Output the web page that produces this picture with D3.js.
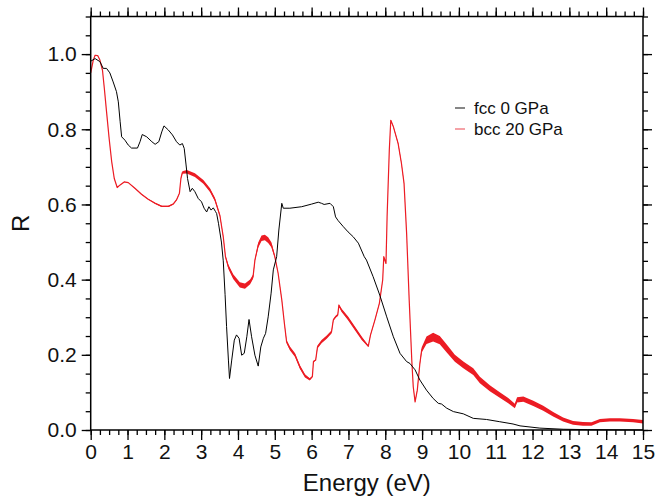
<!DOCTYPE html>
<html>
<head>
<meta charset="utf-8">
<script src="https://cdn.jsdelivr.net/npm/d3@7"></script>
<style>
  body { margin: 0; background: #fff; }
  svg { display: block; }
</style>
</head>
<body>
<svg id="chart" width="655" height="497"></svg>
<script>
// photon energy (eV) and reflectivity
const fccE = [0.00,0.12,0.25,0.34,0.43,0.52,0.61,0.70,0.75,0.80,0.84,0.93,1.02,1.11,1.27,1.34,1.40,1.52,1.66,1.75,1.85,1.93,1.99,2.11,2.22,2.33,2.42,2.49,2.54,2.59,2.63,2.70,2.76,2.83,2.92,3.01,3.08,3.15,3.21,3.27,3.33,3.39,3.42,3.47,3.55,3.60,3.65,3.69,3.74,3.77,3.83,3.90,3.96,4.03,4.10,4.17,4.24,4.30,4.37,4.46,4.55,4.62,4.69,4.75,4.82,4.90,4.96,5.05,5.11,5.19,5.23,5.41,5.73,6.00,6.18,6.27,6.34,6.50,6.59,6.65,6.72,6.86,6.99,7.13,7.27,7.43,7.49,7.67,7.85,8.04,8.22,8.40,8.58,8.67,8.81,8.94,9.12,9.30,9.44,9.53,9.67,9.85,10.12,10.39,10.75,11.11,11.47,11.66,12.20,12.83,13.50,15.00];
const fccR = [0.981,0.988,0.980,0.962,0.962,0.950,0.926,0.900,0.873,0.820,0.780,0.771,0.758,0.750,0.750,0.767,0.786,0.780,0.767,0.760,0.767,0.793,0.809,0.798,0.785,0.767,0.758,0.762,0.749,0.705,0.669,0.634,0.643,0.634,0.616,0.607,0.590,0.580,0.594,0.585,0.591,0.581,0.576,0.550,0.500,0.450,0.360,0.275,0.186,0.137,0.186,0.239,0.253,0.244,0.199,0.204,0.248,0.294,0.248,0.199,0.170,0.221,0.244,0.257,0.301,0.364,0.426,0.461,0.532,0.603,0.590,0.590,0.594,0.601,0.606,0.603,0.600,0.603,0.594,0.567,0.557,0.541,0.527,0.514,0.497,0.461,0.452,0.408,0.359,0.301,0.248,0.204,0.182,0.177,0.160,0.133,0.106,0.084,0.071,0.069,0.058,0.049,0.043,0.031,0.028,0.022,0.016,0.011,0.005,0.002,0.001,0.000];

const bccE = [0.00,0.07,0.12,0.19,0.25,0.32,0.37,0.43,0.50,0.57,0.64,0.72,0.80,0.91,1.02,1.20,1.38,1.56,1.75,1.93,2.11,2.24,2.33,2.41,2.45,2.49,2.61,2.83,3.06,3.24,3.37,3.51,3.60,3.66,3.74,3.87,4.05,4.19,4.33,4.41,4.46,4.55,4.64,4.73,4.82,4.91,5.00,5.09,5.19,5.26,5.32,5.41,5.55,5.68,5.82,5.95,6.02,6.05,6.11,6.16,6.27,6.41,6.54,6.59,6.65,6.71,6.74,6.81,6.99,7.18,7.36,7.54,7.60,7.72,7.84,7.93,7.96,8.02,8.05,8.11,8.15,8.22,8.35,8.44,8.51,8.58,8.65,8.72,8.76,8.81,8.87,8.94,8.99,9.12,9.30,9.48,9.67,9.89,10.12,10.39,10.57,10.84,11.11,11.34,11.52,11.58,11.75,12.02,12.29,12.56,12.83,13.10,13.37,13.60,13.83,14.10,14.37,14.73,15.00];
const bccR = [0.950,0.984,0.997,0.996,0.984,0.957,0.909,0.847,0.776,0.714,0.669,0.645,0.652,0.660,0.658,0.643,0.627,0.614,0.603,0.595,0.595,0.601,0.612,0.630,0.669,0.685,0.687,0.678,0.660,0.638,0.614,0.570,0.514,0.461,0.434,0.408,0.386,0.383,0.394,0.408,0.452,0.492,0.510,0.512,0.505,0.492,0.461,0.417,0.346,0.284,0.235,0.217,0.199,0.168,0.144,0.135,0.142,0.182,0.186,0.221,0.235,0.247,0.261,0.293,0.301,0.306,0.332,0.319,0.297,0.270,0.244,0.223,0.253,0.293,0.337,0.399,0.461,0.443,0.567,0.745,0.824,0.807,0.762,0.709,0.656,0.523,0.346,0.186,0.115,0.075,0.106,0.177,0.213,0.239,0.247,0.239,0.217,0.191,0.173,0.155,0.133,0.111,0.093,0.078,0.064,0.080,0.082,0.071,0.058,0.042,0.028,0.019,0.016,0.016,0.025,0.027,0.027,0.025,0.022];
// spread of the bcc curve (max - min over the plotted set), same units as R
const bccSpread = [0.001,0.001,0.001,0.001,0.001,0.001,0.001,0.001,0.001,0.001,0.001,0.001,0.001,0.001,0.001,0.001,0.002,0.002,0.003,0.003,0.003,0.003,0.003,0.002,0.002,0.007,0.009,0.010,0.010,0.010,0.009,0.006,0.004,0.007,0.011,0.013,0.014,0.014,0.013,0.011,0.005,0.013,0.015,0.015,0.015,0.013,0.006,0.003,0.003,0.004,0.009,0.010,0.010,0.010,0.009,0.006,0.003,0.003,0.004,0.008,0.009,0.009,0.008,0.005,0.006,0.006,0.005,0.009,0.010,0.010,0.009,0.004,0.003,0.003,0.003,0.003,0.003,0.003,0.002,0.002,0.003,0.004,0.005,0.005,0.004,0.002,0.002,0.002,0.003,0.004,0.004,0.008,0.014,0.020,0.023,0.022,0.021,0.019,0.018,0.018,0.017,0.016,0.015,0.014,0.012,0.014,0.014,0.014,0.013,0.012,0.011,0.010,0.010,0.009,0.009,0.009,0.009,0.009,0.009];

const seriesNames = ["fcc 0 GPa", "bcc 20 GPa"];
const xTickLabels = d3.range(0, 16);
const yTickLabels = [0.0, 0.2, 0.4, 0.6, 0.8, 1.0];

const fcc = fccE.map((e, i) => ({ e, r: fccR[i] }));
const bcc = bccE.map((e, i) => ({ e, r: bccR[i], s: bccSpread[i] }));

const svg = d3.select("#chart");
const margin = { top: 16.5, right: 12, bottom: 67, left: 90.7 };
const width = 655, height = 497;
const innerW = width - margin.left - margin.right;
const innerH = height - margin.top - margin.bottom;
const font = "'Liberation Sans', Arial, Helvetica, sans-serif";

const x = d3.scaleLinear().domain([0, 15]).range([0, innerW]);
const y = d3.scaleLinear().domain([0, 1.1]).range([innerH, 0]);

const g = svg.append("g").attr("transform", `translate(${margin.left},${margin.top})`);

// curves
const red = "#ec1c24";
g.append("path")
    .datum(bcc)
    .attr("fill", red)
    .attr("d", d3.area().x(d => x(d.e)).y0(d => y(d.r - d.s / 2)).y1(d => y(d.r + d.s / 2)));
g.append("path")
    .datum(bcc)
    .attr("fill", "none")
    .attr("stroke", red)
    .attr("stroke-width", 1.2)
    .attr("stroke-linejoin", "round")
    .attr("d", d3.line().x(d => x(d.e)).y(d => y(d.r)));
g.append("path")
    .datum(fcc)
    .attr("fill", "none")
    .attr("stroke", "#000")
    .attr("stroke-width", 1)
    .attr("stroke-linejoin", "round")
    .attr("d", d3.line().x(d => x(d.e)).y(d => y(d.r)));

// axes on all four sides, ticks pointing out
function styleAxis(sel) {
    sel.select(".domain").remove();
    sel.selectAll("line").attr("stroke", "#000").attr("stroke-width", 1.3);
    sel.selectAll("text").attr("font-family", font).attr("font-size", 21).attr("fill", "#111");
}
const xMinor = d3.range(0, 15.001, 0.25);
const yMinor = d3.range(0, 1.1001, 0.05);

g.append("g").attr("transform", `translate(0,${innerH})`)
    .call(d3.axisBottom(x).tickValues(xMinor).tickSize(5).tickFormat(""))
    .call(styleAxis);
g.append("g").attr("transform", `translate(0,${innerH})`)
    .call(d3.axisBottom(x).tickValues(xTickLabels).tickSize(10).tickPadding(4).tickFormat(d3.format("d")))
    .call(styleAxis);
g.append("g")
    .call(d3.axisTop(x).tickValues(xMinor).tickSize(5).tickFormat(""))
    .call(styleAxis);
g.append("g")
    .call(d3.axisTop(x).tickValues(xTickLabels).tickSize(9).tickFormat(""))
    .call(styleAxis);
g.append("g")
    .call(d3.axisLeft(y).tickValues(yMinor).tickSize(5).tickFormat(""))
    .call(styleAxis);
g.append("g")
    .call(d3.axisLeft(y).tickValues(yTickLabels).tickSize(9).tickPadding(5).tickFormat(d3.format(".1f")))
    .call(styleAxis);
g.append("g").attr("transform", `translate(${innerW},0)`)
    .call(d3.axisRight(y).tickValues(yMinor).tickSize(5).tickFormat(""))
    .call(styleAxis);
g.append("g").attr("transform", `translate(${innerW},0)`)
    .call(d3.axisRight(y).tickValues(yTickLabels).tickSize(9).tickFormat(""))
    .call(styleAxis);

g.append("rect")
    .attr("width", innerW).attr("height", innerH)
    .attr("fill", "none").attr("stroke", "#000").attr("stroke-width", 1.5);

// axis titles
svg.append("text")
    .attr("x", margin.left + innerW / 2).attr("y", 491)
    .attr("text-anchor", "middle")
    .attr("font-family", font).attr("font-size", 24).attr("fill", "#111")
    .text("Energy (eV)");
svg.append("text")
    .attr("transform", `translate(29,${margin.top + innerH / 2}) rotate(-90)`)
    .attr("text-anchor", "middle")
    .attr("font-family", font).attr("font-size", 24).attr("fill", "#111")
    .text("R");

// legend
const legendColors = ["#444", "#f07078"];
const legend = svg.append("g").attr("transform", "translate(455,108)");
seriesNames.forEach((name, i) => {
    const row = legend.append("g").attr("transform", `translate(0,${i * 21})`);
    row.append("line").attr("x1", 0).attr("x2", 10)
        .attr("stroke", legendColors[i]).attr("stroke-width", 1.3);
    row.append("text").attr("x", 19).attr("y", 6)
        .attr("font-family", font).attr("font-size", 17).attr("fill", "#111")
        .text(name);
});
</script>
</body>
</html>
